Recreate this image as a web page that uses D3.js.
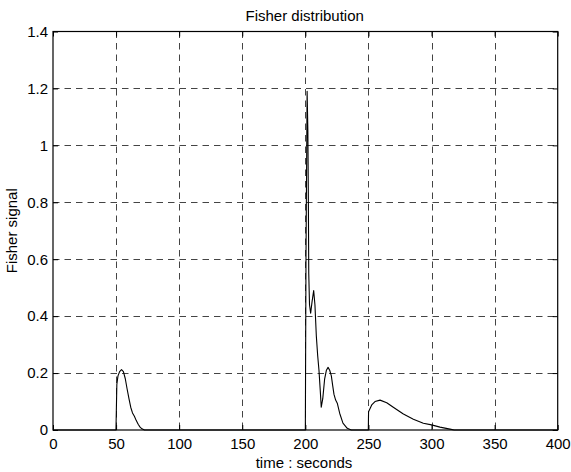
<!DOCTYPE html>
<html>
<head>
<meta charset="utf-8">
<script src="https://cdn.jsdelivr.net/npm/d3@7"></script>
<style>
  html, body { margin: 0; padding: 0; background: #fff; }
  svg { display: block; }
  text { font-family: "Liberation Sans", Arial, Helvetica, sans-serif; fill: #000; }
</style>
</head>
<body>
<svg id="chart" width="571" height="472"></svg>
<script>
// Fisher signal over time (seconds); zero between the bursts
const timeSec = [
  0, 49.9, 50.6, 51.5, 52.8, 54.3, 55.8, 57.3, 58.7, 60.2, 61.6, 63, 64.5, 66, 67.5, 69, 70.5, 72.5,
  200, 200.5, 201.4, 202.0, 202.4, 202.7, 203.3, 204.2, 205.3, 206.6, 207.6, 208.7, 209.8, 210.8,
  211.8, 212.6, 213.8, 215.3, 216.7, 218, 219.3, 220.6, 221.7, 222.7, 224, 225.3, 227.2, 229.8,
  233.2, 236.4,
  249.9, 250.1, 252.6, 255.2, 259.2, 264.5, 269.7, 277.7, 285.6, 293.5, 300, 306.7, 314.6, 318,
  400
];
const fisherSignal = [
  0, 0, 0.16, 0.19, 0.205, 0.212, 0.205, 0.18, 0.145, 0.11, 0.08, 0.06, 0.048, 0.033, 0.02, 0.01, 0.004, 0,
  0, 0.6, 1.19, 1.05, 0.8, 0.55, 0.44, 0.41, 0.45, 0.49, 0.44, 0.33, 0.26, 0.21,
  0.14, 0.08, 0.11, 0.18, 0.21, 0.22, 0.21, 0.19, 0.155, 0.125, 0.105, 0.094, 0.059, 0.024,
  0.006, 0,
  0, 0.064, 0.088, 0.1, 0.105, 0.096, 0.08, 0.056, 0.038, 0.024, 0.018, 0.01, 0.003, 0,
  0
];
const xTicks = [0, 50, 100, 150, 200, 250, 300, 350, 400];
const yTicks = [0, 0.2, 0.4, 0.6, 0.8, 1, 1.2, 1.4];

const titleText = "Fisher distribution";
const xLabelText = "time : seconds";
const yLabelText = "Fisher signal";

const svg = d3.select("#chart");
const W = 571, H = 472;
const plot = { left: 53, right: 557.7, top: 31.5, bottom: 430 };

svg.append("rect").attr("width", W).attr("height", H).attr("fill", "#fff");

const x = d3.scaleLinear().domain([0, 400]).range([plot.left, plot.right]);
const y = d3.scaleLinear().domain([0, 1.4]).range([plot.bottom, plot.top]);

// dashed grid
const grid = svg.append("g")
  .attr("stroke", "#444")
  .attr("stroke-width", 1)
  .attr("stroke-dasharray", "6.5,5")
  .attr("fill", "none");
grid.selectAll("line.vx")
  .data(xTicks.slice(1, -1))
  .join("line")
  .attr("x1", d => Math.round(x(d)) + 0.5).attr("x2", d => Math.round(x(d)) + 0.5)
  .attr("y1", plot.top).attr("y2", plot.bottom);
grid.selectAll("line.hy")
  .data(yTicks.slice(1, -1))
  .join("line")
  .attr("x1", plot.left).attr("x2", plot.right)
  .attr("y1", d => Math.round(y(d)) + 0.5).attr("y2", d => Math.round(y(d)) + 0.5);

// axes with inward ticks
const fontSize = "15px";
const bottomAxis = svg.append("g")
  .attr("transform", `translate(0,${plot.bottom})`)
  .call(d3.axisBottom(x).tickValues(xTicks).tickSize(-5).tickPadding(8).tickFormat(d3.format("d")));
const leftAxis = svg.append("g")
  .attr("transform", `translate(${plot.left},0)`)
  .call(d3.axisLeft(y).tickValues(yTicks).tickSize(-5).tickPadding(5).tickFormat(d => d3.format("")(+d.toFixed(1))));
const topAxis = svg.append("g")
  .attr("transform", `translate(0,${plot.top})`)
  .call(d3.axisTop(x).tickValues(xTicks).tickSize(-5).tickFormat(""));
const rightAxis = svg.append("g")
  .attr("transform", `translate(${plot.right},0)`)
  .call(d3.axisRight(y).tickValues(yTicks).tickSize(-5).tickFormat(""));

[bottomAxis, leftAxis, topAxis, rightAxis].forEach(g => {
  g.select(".domain").remove();
  g.selectAll(".tick line").attr("stroke", "#000");
  g.selectAll("text").style("font-size", fontSize).attr("fill", "#000");
});

// frame
svg.append("rect")
  .attr("x", plot.left).attr("y", plot.top)
  .attr("width", plot.right - plot.left).attr("height", plot.bottom - plot.top)
  .attr("fill", "none").attr("stroke", "#000").attr("stroke-width", 1.2);

// signal
const line = d3.line()
  .x((d, i) => x(timeSec[i]))
  .y(d => y(d));
svg.append("path")
  .datum(fisherSignal)
  .attr("d", line)
  .attr("fill", "none")
  .attr("stroke", "#000")
  .attr("stroke-width", 1.1)
  .attr("stroke-linejoin", "round");

// labels
svg.append("text")
  .attr("x", 304.7).attr("y", 20.7)
  .attr("text-anchor", "middle")
  .style("font-size", fontSize)
  .text(titleText);
svg.append("text")
  .attr("x", 304).attr("y", 468.3)
  .attr("text-anchor", "middle")
  .style("font-size", fontSize)
  .text(xLabelText);
svg.append("text")
  .attr("transform", `translate(16.5,${(plot.top + plot.bottom) / 2}) rotate(-90)`)
  .attr("text-anchor", "middle")
  .style("font-size", fontSize)
  .text(yLabelText);
</script>
</body>
</html>
